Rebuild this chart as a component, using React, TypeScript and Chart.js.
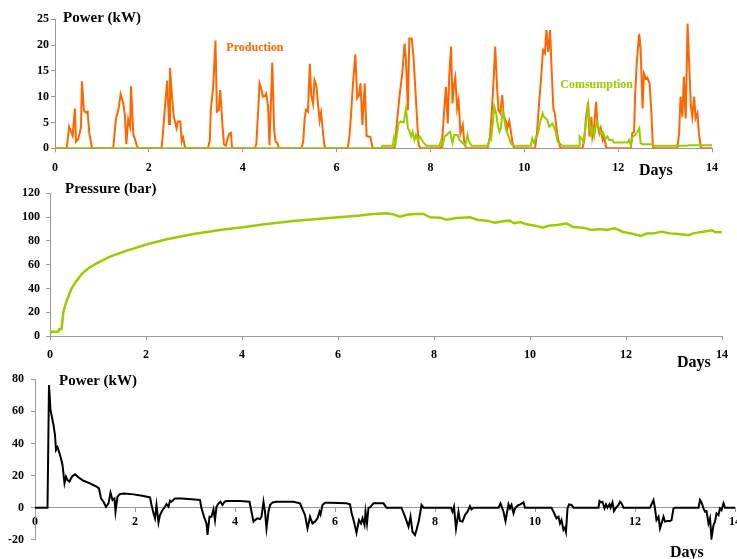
import { useEffect, useRef } from 'react';
import Chart from 'chart.js/auto';

const W = 737;
const H = 559;
const FONT = '"Liberation Serif", "Times New Roman", serif';
const ORANGE = '#FF6600';
const GREEN = '#99CC00';

// ---------- data ----------
const dayTicks = [0, 2, 4, 6, 8, 10, 12, 14];
const powerTicks = [0, 5, 10, 15, 20, 25];
const pressureTicks = [0, 20, 40, 60, 80, 100, 120];
const netTicks = [-20, 0, 20, 40, 60, 80];

// [day, kW]
const production: [number, number][] = [
  [0, 0],
  [0.25, 0], [0.3, 4.2], [0.376, 2.4], [0.425, 7.7], [0.447, 1.3], [0.496, 1.8], [0.553, 4.0], [0.574, 13], [0.617, 7.3], [0.66, 6.9], [0.695, 7.1], [0.73, 3.0], [0.79, 0],
  [1.24, 0], [1.3, 5.8], [1.35, 7.4], [1.4, 10.5], [1.45, 9.0], [1.49, 6.4], [1.52, 0.8], [1.56, 5.6], [1.6, 4.2], [1.62, 12], [1.67, 2.6], [1.7, 1.9], [1.75, 0.3], [1.79, 0],
  [2.27, 0], [2.3, 2.9], [2.34, 7.7], [2.39, 13.1], [2.43, 4.7], [2.45, 15.6], [2.5, 9.2], [2.53, 6.2], [2.59, 3.9], [2.62, 5.2], [2.67, 5.2], [2.7, 1.3], [2.73, 2.1], [2.77, 0.3], [2.8, 0],
  [3.26, 0], [3.3, 1.6], [3.32, 7.4], [3.37, 11.8], [3.42, 20.9], [3.45, 7.1], [3.49, 7.4], [3.52, 11.3], [3.57, 4.3], [3.6, 0.8], [3.64, 0.5], [3.67, 1.6], [3.71, 2.8], [3.75, 3.0], [3.77, 0.3], [3.81, 0],
  [4.26, 0], [4.29, 0.8], [4.33, 7.4], [4.36, 12.6], [4.4, 11.4], [4.43, 10], [4.47, 10.1], [4.5, 10.6], [4.54, 8.2], [4.57, 0.6], [4.63, 16.6], [4.67, 3.5], [4.7, 1.3], [4.74, 1.0], [4.77, 0],
  [5.25, 0], [5.29, 1.3], [5.32, 5.8], [5.35, 7.5], [5.39, 7.1], [5.43, 16.4], [5.46, 10.3], [5.5, 8.6], [5.53, 13.2], [5.57, 12.2], [5.6, 9.0], [5.64, 5.3], [5.67, 6.9], [5.71, 3.2], [5.74, 0.5], [5.77, 0],
  [6.24, 0], [6.28, 2.9], [6.31, 6.8], [6.35, 12.6], [6.4, 18.2], [6.44, 9.7], [6.48, 10.3], [6.51, 12.6], [6.55, 4.5], [6.6, 12.6], [6.64, 2.4], [6.72, 2.2], [6.77, 0],
  [7.23, 0], [7.27, 3.5], [7.34, 10], [7.4, 14.5], [7.45, 20.3], [7.48, 17.1], [7.52, 7.4], [7.55, 21.3], [7.6, 21.3], [7.64, 17.7], [7.68, 11.3], [7.72, 4.8], [7.75, 0.6], [7.79, 0],
  [8.23, 0], [8.26, 2.9], [8.3, 8.1], [8.33, 11.9], [8.37, 4.8], [8.4, 13.9], [8.44, 19.7], [8.47, 8.7], [8.5, 12.2], [8.53, 13.7], [8.57, 7.7], [8.6, 9.3], [8.64, 2.9], [8.69, 4.5], [8.72, 1.3], [8.76, 0],
  [9.22, 0], [9.27, 2.3], [9.31, 7.4], [9.35, 13.9], [9.38, 19.7], [9.42, 11.9], [9.45, 7.4], [9.49, 6.8], [9.53, 10.3], [9.56, 6.4], [9.61, 5.2], [9.64, 3.9], [9.68, 5.3], [9.72, 2.9], [9.75, 1.0], [9.79, 0],
  [10.23, 0], [10.27, 2.9], [10.32, 9.3], [10.36, 13.9], [10.4, 19], [10.44, 18.4], [10.47, 22.9], [10.51, 18.7], [10.55, 22.9], [10.58, 15.8], [10.62, 7.7], [10.65, 6.8], [10.69, 3.5], [10.72, 1.9], [10.77, 0],
  [11.24, 0], [11.28, 1.6], [11.31, 5.5], [11.36, 9.0], [11.39, 2.3], [11.43, 6.1], [11.45, 2.3], [11.49, 4.5], [11.53, 9.0], [11.56, 4.5], [11.6, 2.9], [11.63, 3.9], [11.67, 1.6], [11.7, 2.3], [11.74, 0.3], [11.77, 0],
  [12.27, 0], [12.3, 2.9], [12.34, 3.2], [12.36, 10], [12.4, 17.1], [12.45, 22.2], [12.48, 19], [12.52, 7.7], [12.55, 14.5], [12.59, 13.5], [12.62, 13.7], [12.67, 12.6], [12.71, 6.8], [12.74, 0.3], [12.78, 0],
  [13.26, 0], [13.3, 2.9], [13.33, 10], [13.37, 6.1], [13.4, 13.9], [13.44, 5.8], [13.48, 24.2], [13.51, 17.1], [13.55, 8.1], [13.58, 6.1], [13.62, 10], [13.65, 5.8], [13.69, 6.8], [13.72, 2.9], [13.76, 0.3], [13.79, 0],
  [14, 0],
];

// [day, kW]
const consumption: [number, number][] = [
  [0, 0], [6.96, 0], [6.97, 0.5], [7.2, 0.5], [7.22, 1.9], [7.25, 0.5], [7.28, 2.3], [7.32, 4.8], [7.37, 5.2], [7.43, 5.0], [7.48, 7.7], [7.52, 3.9], [7.55, 3.4], [7.59, 2.3], [7.62, 3.2], [7.66, 1.6], [7.69, 2.6], [7.73, 1.6], [7.77, 2.3], [7.8, 1.9], [7.84, 1.3], [7.91, 0.5],
  [8.19, 0.5], [8.23, 1.6], [8.26, 0.5], [8.3, 2.3], [8.35, 2.6], [8.39, 3.0], [8.42, 3.2], [8.47, 1.0], [8.51, 2.6], [8.58, 2.6], [8.62, 1.6], [8.65, 1.3], [8.69, 1.0], [8.74, 0.5], [8.79, 2.6], [8.82, 1.3], [8.88, 0.5],
  [9.22, 0.5], [9.26, 1.9], [9.29, 1.6], [9.33, 4.8], [9.36, 8.1], [9.4, 6.8], [9.43, 4.8], [9.47, 3.2], [9.5, 3.9], [9.54, 7.4], [9.57, 5.8], [9.61, 3.5], [9.64, 2.9], [9.68, 1.9], [9.71, 1.0], [9.76, 0.5],
  [10.14, 0.5], [10.17, 1.9], [10.21, 1.0], [10.25, 2.3], [10.28, 2.4], [10.32, 4.2], [10.35, 5.5], [10.39, 6.8], [10.42, 6.1], [10.46, 5.8], [10.49, 5.5], [10.53, 4.2], [10.57, 4.5], [10.6, 4.8], [10.64, 3.9], [10.67, 3.2], [10.71, 1.3], [10.74, 1.0], [10.81, 0.5],
  [11.17, 0.5], [11.18, 2.3], [11.22, 1.9], [11.26, 1.3], [11.31, 4.5], [11.36, 8.1], [11.38, 5.8], [11.42, 2.9], [11.45, 3.9], [11.49, 2.3], [11.54, 5.2], [11.58, 4.2], [11.63, 2.9], [11.67, 3.2], [11.7, 2.3], [11.74, 1.9], [11.77, 2.3], [11.81, 1.6], [11.88, 1.6], [11.91, 1.1],
  [12.2, 1.1], [12.23, 1.6], [12.27, 0.6], [12.3, 2.1], [12.36, 2.6], [12.41, 3.2], [12.45, 3.9], [12.48, 1.0], [12.52, 0.8], [12.73, 0.8], [12.76, 0.5],
  [13.47, 0.5], [13.5, 0.6], [14, 0.6],
];

// [day, bar]
const pressure: [number, number][] = [
  [0, 1.7], [0.03, 3.6], [0.17, 3.6], [0.19, 5.6], [0.24, 5.6], [0.28, 20.5], [0.33, 27.5], [0.38, 33], [0.45, 40], [0.54, 45.7], [0.66, 52], [0.8, 57], [0.97, 61],
  [1.25, 66.7], [1.6, 71.8], [2.01, 77], [2.43, 81.3], [2.99, 85.8], [3.54, 89.2], [4.01, 91.4], [4.51, 94.2], [5.07, 96.7], [5.56, 98.4], [6.01, 99.8], [6.46, 101.3],
  [6.67, 102.3], [7.01, 103.2], [7.15, 102.3], [7.29, 100.4], [7.43, 102.0], [7.6, 102.6], [7.78, 102.6], [7.92, 99.8], [8.13, 99.5], [8.26, 97.8], [8.47, 99.2],
  [8.75, 99.8], [8.92, 97.6], [9.1, 97.0], [9.27, 95.3], [9.44, 96.5], [9.58, 97.0], [9.67, 94.8], [9.79, 95.9], [9.93, 93.9], [10.1, 92.8], [10.28, 91.1],
  [10.38, 92.8], [10.56, 93.4], [10.76, 94.5], [10.9, 91.7], [11.11, 91.1], [11.28, 89.2], [11.46, 90.0], [11.6, 89.2], [11.77, 90.6], [11.94, 87.5], [12.12, 86.1],
  [12.31, 84.1], [12.43, 86.1], [12.57, 86.3], [12.74, 87.7], [12.92, 86.3], [13.09, 85.8], [13.3, 84.7], [13.4, 86.3], [13.58, 87.5], [13.79, 88.9], [13.85, 87.5], [14, 87.2],
];

// [day, kW]
const netPower: [number, number][] = [
  [0, 0], [0.25, 0], [0.28, 76.4], [0.31, 60.9], [0.37, 51.5], [0.4, 45.3], [0.42, 35.9], [0.45, 37.6], [0.49, 33.9], [0.52, 30.7], [0.55, 26.6], [0.59, 15.2], [0.62, 19.3],
  [0.65, 17.2], [0.69, 16.2], [0.72, 18.3], [0.75, 19.7], [0.8, 20.8], [0.87, 18.9], [0.97, 16.8], [1.1, 15.2], [1.23, 13.1], [1.28, 12.0], [1.32, 5.8], [1.37, 3.7],
  [1.42, 0.6], [1.47, 2.7], [1.51, 9.3], [1.55, 4.8], [1.59, 5.8], [1.61, -2.5], [1.65, 6.9], [1.7, 8.5], [1.78, 8.9], [1.97, 8.3], [2.17, 7.3], [2.3, 6.4], [2.33, 1.7],
  [2.37, -3.5], [2.4, -6.6], [2.43, 1.7], [2.47, -9.3], [2.5, -4.6], [2.55, -1.5], [2.6, 0.6], [2.63, 2.3], [2.67, 0.6], [2.7, 4.4], [2.73, 3.7], [2.8, 5.8], [2.93, 5.8],
  [3.13, 5.2], [3.3, 4.8], [3.33, -0.4], [3.38, -5.6], [3.43, -9.8], [3.45, -17], [3.49, -5.6], [3.53, -5.6], [3.57, -1.0], [3.6, -7.7], [3.63, 0.6], [3.67, 2.7],
  [3.71, 3.7], [3.75, 1.7], [3.79, 3.7], [3.83, 4.2], [4.1, 4.2], [4.29, 3.7], [4.33, -2.5], [4.37, -8.7], [4.4, -7.7], [4.45, -6.6], [4.5, -7.1], [4.53, -5.6],
  [4.57, 3.7], [4.6, -2.5], [4.63, -12.9], [4.67, -2.5], [4.7, 1.7], [4.75, 3.3], [4.83, 3.7], [5.17, 3.7], [5.3, 2.7], [5.37, -2.5], [5.4, -4.6], [5.45, -12.9],
  [5.5, -5.6], [5.55, -9.8], [5.6, -8.7], [5.65, -6.6], [5.69, -2.5], [5.71, -4.2], [5.75, 1.7], [5.8, 3.1], [5.9, 3.1], [6.23, 2.7], [6.3, 2.1], [6.33, -3],
  [6.38, -8.7], [6.43, -15.6], [6.48, -7.7], [6.52, -9.8], [6.55, -6.6], [6.59, -10.8], [6.61, -2.5], [6.64, -9.8], [6.67, 0], [6.7, 0.2], [6.77, 2.7], [6.97, 2.7],
  [7.03, 0], [7.33, 0], [7.4, -5.6], [7.47, -11.8], [7.51, -5.6], [7.55, -15], [7.6, -17], [7.63, -13.9], [7.68, -7.7], [7.73, 1.7], [7.77, 0],
  [8.32, 0], [8.35, -2.5], [8.38, 0.6], [8.42, -13], [8.47, -2.5], [8.5, -8.3], [8.55, -8.7], [8.6, -4.6], [8.65, -2.5], [8.7, 1.0], [8.73, -1.0], [8.77, 0],
  [9.27, 0], [9.31, 2.7], [9.37, -2.5], [9.41, -8.3], [9.47, 2.1], [9.5, -0.4], [9.53, 1.7], [9.57, -3.5], [9.6, -0.4], [9.63, 0.6], [9.67, 1.7], [9.71, 2.1], [9.77, 3.3], [9.8, 0],
  [10.33, 0], [10.37, -2.5], [10.43, -6.6], [10.47, -5.6], [10.5, -9.8], [10.53, -7.7], [10.57, -13.9], [10.6, -12.5], [10.62, -15], [10.65, -0.4], [10.68, 2.1], [10.73, 1.7], [10.77, 0],
  [11.27, 0], [11.29, 4.2], [11.32, 3.3], [11.35, 3.7], [11.39, -0.4], [11.42, 2.1], [11.45, 0], [11.49, 2.1], [11.51, 0], [11.55, 3.3], [11.58, -2.1], [11.62, 0], [11.67, 1.7], [11.7, 3.7], [11.73, 2.7], [11.77, 0],
  [12.3, 0], [12.33, 2.1], [12.37, 4.8], [12.4, -0.4], [12.43, -7.7], [12.47, -5.6], [12.5, -12.9], [12.53, -9.8], [12.57, -5.6], [12.6, -8.7], [12.65, -8.3], [12.7, -8.3], [12.73, -7.7], [12.77, -0.4], [12.8, 0],
  [13.27, 0], [13.3, 4.8], [13.33, 3.3], [13.37, -0.4], [13.4, -2.5], [13.43, -2.1], [13.47, -9.8], [13.5, -6.6], [13.53, -19], [13.57, -10.8], [13.6, -8.7], [13.63, -3.5], [13.67, -4.6], [13.7, -0.4], [13.73, -1.5], [13.77, 2.7], [13.8, 0],
  [14, 0],
];

// ---------- helpers ----------
const toXY = (pts: [number, number][]) => pts.map(([x, y]) => ({ x, y }));

type Item = {
  text: string;
  ref: 'data' | 'top' | 'bottom';
  x: number;
  y: number;
  size: number;
  color: string;
  align: CanvasTextAlign;
  baseline: CanvasTextBaseline;
};

const annotPlugin = {
  id: 'annot',
  afterDatasetsDraw(chart: any, _args: any, opts: any) {
    const { ctx, chartArea, scales } = chart;
    const items: Item[] = opts.items || [];
    for (const it of items) {
      let px: number;
      let py: number;
      if (it.ref === 'data') {
        px = scales.x.getPixelForValue(it.x);
        py = scales.y.getPixelForValue(it.y);
      } else {
        px = chartArea.left + it.x;
        py = (it.ref === 'top' ? chartArea.top : chartArea.bottom) + it.y;
      }
      ctx.save();
      ctx.font = `bold ${it.size}px ${FONT}`;
      ctx.fillStyle = it.color;
      ctx.textAlign = it.align;
      ctx.textBaseline = it.baseline;
      ctx.fillText(it.text, px, py);
      ctx.restore();
    }
  },
};

function axis(min: number, max: number, ticks: number[], pad: number, fit: (s: any) => void, extra: any = {}) {
  return {
    type: 'linear',
    min,
    max,
    afterBuildTicks: (s: any) => {
      s.ticks = ticks.map((v) => ({ value: v }));
    },
    afterFit: fit,
    ticks: {
      color: '#000',
      font: { family: FONT, weight: 'bold', size: 12 },
      padding: pad,
      autoSkip: false,
      maxRotation: 0,
      minRotation: 0,
    },
    grid: { display: true, drawOnChartArea: false, drawTicks: true, tickLength: 4, color: '#999', lineWidth: 1 },
    border: { display: true, color: '#999', width: 1 },
    ...extra,
  };
}

const fitX = (h: number) => (s: any) => {
  s.height = h;
  s.paddingLeft = 0;
  s.paddingRight = 0;
};
const fitY = (w: number) => (s: any) => {
  s.width = w;
  s.paddingTop = 0;
  s.paddingBottom = 0;
};

function baseOptions(padding: any, scales: any, items: Item[]) {
  return {
    responsive: false,
    animation: false,
    events: [],
    layout: { padding },
    scales,
    elements: { point: { radius: 0 }, line: { tension: 0 } },
    plugins: {
      legend: { display: false },
      tooltip: { enabled: false },
      title: { display: false },
      annot: { items },
    },
  };
}

function powerConfig(): any {
  return {
    type: 'line',
    data: {
      datasets: [
        { label: 'Comsumption', data: toXY(consumption), borderColor: GREEN, borderWidth: 2, order: 0 },
        { label: 'Production', data: toXY(production), borderColor: ORANGE, borderWidth: 2, order: 1 },
      ],
    },
    options: baseOptions(
      { left: 5, right: 25, top: 19.3, bottom: 380.7 },
      {
        x: axis(0, 14, dayTicks, 8, fitX(30)),
        y: axis(0, 25, powerTicks, 2, fitY(50)),
      },
      [
        { text: 'Power (kW)', ref: 'top', x: 8, y: 2.2, size: 15, color: '#000', align: 'left', baseline: 'alphabetic' },
        { text: 'Production', ref: 'data', x: 4.26, y: 19.4, size: 12, color: ORANGE, align: 'center', baseline: 'middle' },
        { text: 'Comsumption', ref: 'data', x: 11.54, y: 12.2, size: 12, color: GREEN, align: 'center', baseline: 'middle' },
        { text: 'Days', ref: 'bottom', x: 584, y: 26.7, size: 16, color: '#000', align: 'left', baseline: 'alphabetic' },
      ]
    ),
    plugins: [annotPlugin],
  };
}

function pressureConfig(): any {
  return {
    type: 'line',
    data: {
      datasets: [{ label: 'Pressure', data: toXY(pressure), borderColor: GREEN, borderWidth: 2.5 }],
    },
    options: baseOptions(
      { left: 5, right: 15, top: 193.3, bottom: 193 },
      {
        x: axis(0, 14, dayTicks, 8, fitX(30)),
        y: axis(0, 120, pressureTicks, 6, fitY(45)),
      },
      [
        { text: 'Pressure (bar)', ref: 'top', x: 15, y: -0.3, size: 15, color: '#000', align: 'left', baseline: 'alphabetic' },
        { text: 'Days', ref: 'bottom', x: 627, y: 30.5, size: 16, color: '#000', align: 'left', baseline: 'alphabetic' },
      ]
    ),
    plugins: [annotPlugin],
  };
}

function netConfig(): any {
  return {
    type: 'line',
    data: {
      datasets: [{ label: 'Power', data: toXY(netPower), borderColor: '#000', borderWidth: 2 }],
    },
    options: baseOptions(
      { left: 0, right: 2, top: 379.3, bottom: 19.2 },
      {
        x: axis(0, 14, dayTicks, 3, fitX(0), { position: { y: 0 } }),
        y: axis(-20, 80, netTicks, 7, fitY(35)),
      },
      [
        { text: 'Power (kW)', ref: 'top', x: 24, y: 5.7, size: 15, color: '#000', align: 'left', baseline: 'alphabetic' },
        { text: 'Days', ref: 'bottom', x: 635, y: 16.7, size: 16, color: '#000', align: 'left', baseline: 'alphabetic' },
      ]
    ),
    plugins: [annotPlugin],
  };
}

export default function App() {
  const r1 = useRef<HTMLCanvasElement>(null);
  const r2 = useRef<HTMLCanvasElement>(null);
  const r3 = useRef<HTMLCanvasElement>(null);

  useEffect(() => {
    const charts = [
      new Chart(r1.current as HTMLCanvasElement, powerConfig()),
      new Chart(r2.current as HTMLCanvasElement, pressureConfig()),
      new Chart(r3.current as HTMLCanvasElement, netConfig()),
    ];
    return () => charts.forEach((c) => c.destroy());
  }, []);

  const cs: any = { position: 'absolute', left: 0, top: 0, width: W, height: H };
  return (
    <div style={{ position: 'absolute', left: 0, top: 0, width: W, height: H, background: '#fff', overflow: 'hidden' }}>
      <canvas ref={r1} width={W} height={H} style={cs} />
      <canvas ref={r2} width={W} height={H} style={cs} />
      <canvas ref={r3} width={W} height={H} style={cs} />
    </div>
  );
}
